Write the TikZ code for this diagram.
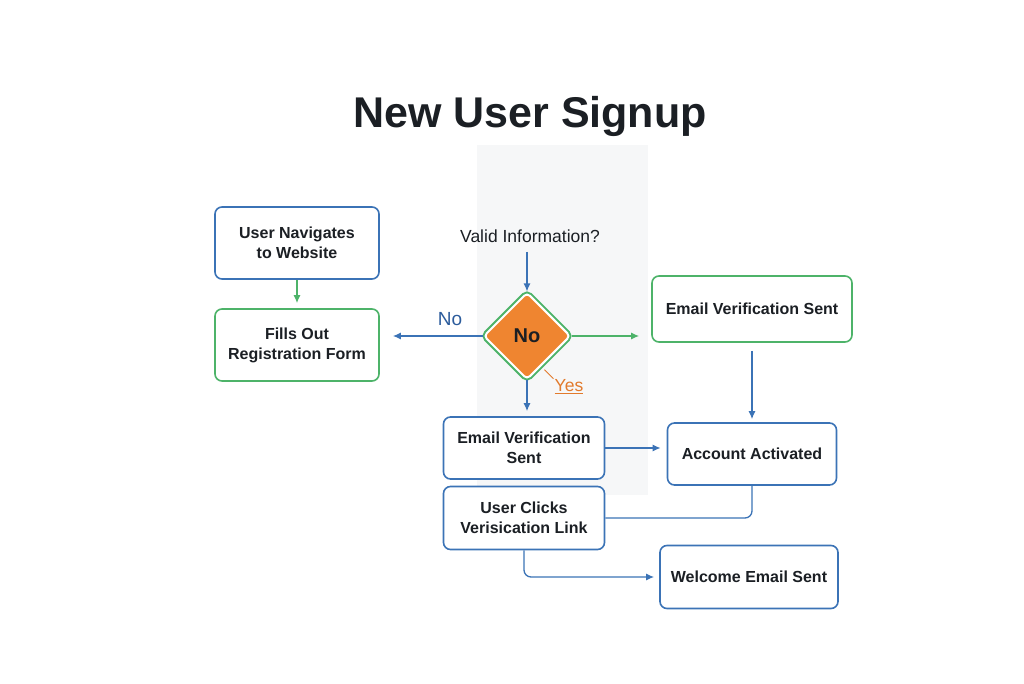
\documentclass[tikz,border=0pt]{standalone}
\usepackage{fontspec}
\setmainfont{Liberation Sans}
\usetikzlibrary{shapes.geometric,arrows.meta}
\definecolor{boxblue}{HTML}{3B73B6}
\definecolor{boxgreen}{HTML}{4DB369}
\definecolor{decorange}{HTML}{EF8530}
\definecolor{yesorange}{HTML}{E27A2C}
\definecolor{noblue}{HTML}{2C5C9C}
\definecolor{paneltint}{HTML}{F6F7F8}
\definecolor{inkdark}{HTML}{1B1F24}

\begin{document}
\begin{tikzpicture}[x=1pt,y=1pt,
  stepbox/.style={draw=boxblue,line width=1.6pt,rounded corners=7pt,fill=white,align=center,
    text=inkdark,inner sep=0pt,font=\fontsize{16}{20}\selectfont\bfseries},
  greenbox/.style={stepbox,draw=boxgreen},
  flow/.style={boxblue,line width=1.3pt,-{Latex[length=8pt,width=7pt]}},
  flowg/.style={flow,boxgreen},
  plainlabel/.style={font=\fontsize{17.5}{20}\selectfont,text=inkdark}]
  \useasboundingbox (0,0) rectangle (1024,683);
  \fill[paneltint] (477,188) rectangle (648,538);

  \node[font=\fontsize{43}{48}\selectfont\bfseries,text=inkdark] (title) at (530,567) {New User Signup};

  \node[stepbox,minimum width=164,minimum height=72] (nav) at (297,440) {User Navigates\\to Website};
  \node[greenbox,minimum width=164,minimum height=72] (fills) at (297,338) {Fills Out\\Registration Form};
  \node[plainlabel] (valid) at (530,447) {Valid Information?};
  \node[diamond,minimum width=87,minimum height=87,inner sep=0pt,rounded corners=4pt,
    fill=decorange,draw=white,line width=2pt,preaction={draw=boxgreen,line width=6pt},
    font=\fontsize{20}{24}\selectfont\bfseries,text=inkdark] (dec) at (527,347) {No};
  \node[font=\fontsize{19}{22}\selectfont,text=noblue] (nolbl) at (450,364) {No};
  \node[font=\fontsize{17.5}{20}\selectfont,text=yesorange,inner sep=1pt] (yes) at (569,296) {\underline{Yes}};
  \node[greenbox,minimum width=200,minimum height=66] (evtop) at (752,374) {Email Verification Sent};
  \node[stepbox,minimum width=161,minimum height=62] (ev2) at (524,235) {Email Verification\\Sent};
  \node[stepbox,minimum width=169,minimum height=62] (act) at (752,229) {Account Activated};
  \node[stepbox,minimum width=161,minimum height=63] (clicks) at (524,165) {User Clicks\\Verisication Link};
  \node[stepbox,minimum width=178,minimum height=63] (welcome) at (749,106) {Welcome Email Sent};

  \draw[flowg,shorten >=5pt] (nav) -- (fills);
  \draw[flow,shorten <=6pt] (dec.north |- valid.south) -- (dec.north);
  \draw[flow,shorten >=13pt] (dec.west) -- (dec.west -| fills.east);
  \draw[flowg,shorten >=12pt] (dec.east) -- (dec.east -| evtop.west);
  \draw[yesorange,line width=0.9pt] (yes.north west) -- ++(-9,9);
  \draw[flow,shorten >=5pt] (dec.south) -- (dec.south |- ev2.north);
  \draw[flow,shorten >=6pt] (ev2.east) -- (ev2.east -| act.west);
  \draw[flow,shorten <=8pt,shorten >=3pt] (evtop.south) -- (act.north);
  \draw[boxblue,line width=1.3pt,rounded corners=7pt] (act.south) |- (clicks.east);
  \draw[flow,rounded corners=7pt,shorten >=5pt] (clicks.south) |- (welcome.west);
\end{tikzpicture}
\end{document}
